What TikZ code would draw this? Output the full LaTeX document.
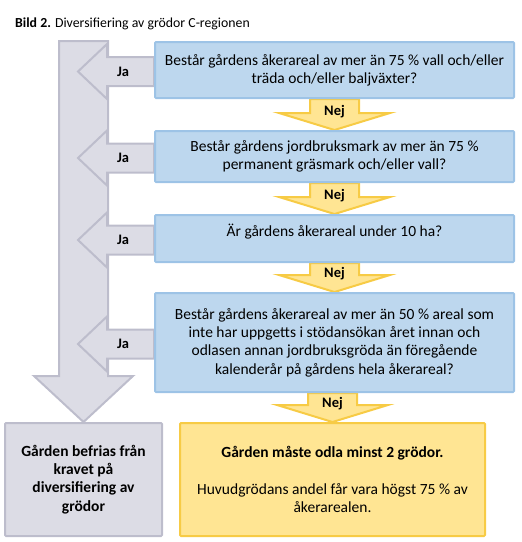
\documentclass[tikz,border=0pt]{standalone}
\usepackage{fontspec}
\setmainfont{Carlito}
\usetikzlibrary{positioning,calc,backgrounds}

\definecolor{boxblue}{HTML}{BDD7EE}
\definecolor{lineblue}{HTML}{9DC3E6}
\definecolor{boxgrey}{HTML}{DCDCE5}
\definecolor{linegrey}{HTML}{BDBDCC}
\definecolor{boxyellow}{HTML}{FFE593}
\definecolor{lineyellow}{HTML}{F7CB45}

\tikzset{
  txt/.style={font=\fontsize{15.5}{18.3}\selectfont, inner sep=0pt},
  question/.style={txt, draw=lineblue, fill=boxblue, line width=2pt, rounded corners=1pt,
    minimum width=359pt, align=center},
  greybox/.style={txt, draw=linegrey, fill=boxgrey, line width=2pt, rounded corners=1pt,
    minimum width=157pt, minimum height=113pt, align=center, font=\fontsize{15.5}{18.3}\selectfont\bfseries},
  yellowbox/.style={txt, draw=lineyellow, fill=boxyellow, line width=2pt, rounded corners=1pt,
    minimum width=305pt, minimum height=113pt, align=center},
  jaarrow/.style={draw=linegrey, fill=boxgrey, line width=2pt, line join=miter},
  nejarrow/.style={draw=lineyellow, fill=boxyellow, line width=2pt, line join=miter},
  answer/.style={txt, font=\fontsize{14.5}{17}\selectfont\bfseries}
}

\begin{document}
\begin{tikzpicture}[x=1pt, y=-1pt]
  \useasboundingbox (0,0) rectangle (522,542);

  % Title
  \node[txt, anchor=base west, font=\fontsize{13.8}{16}\selectfont] (title) at (15,27)
    {\textbf{Bild 2.} Diversifiering av grödor C-regionen};

  % Questions
  \node[question, minimum height=56pt] (q1) at (334.5,70)
    {Består gårdens åkerareal av mer än 75~\% vall och/eller\\träda och/eller baljväxter?};
  \node[question, minimum height=51pt] (q2) at (334.5,156.5)
    {Består gårdens jordbruksmark av mer än 75~\%\\permanent gräsmark och/eller vall?};
  \node[question, minimum height=47pt, text depth=16pt] (q3) at (334.5,238.5)
    {Är gårdens åkerareal under 10 ha?};
  \node[question, minimum height=99pt] (q4) at (334.5,342.5)
    {Består gårdens åkerareal av mer än 50~\% areal som\\inte har uppgetts i stödansökan året innan och\\odlasen annan jordbruksgröda än föregående\\kalenderår på gårdens hela åkerareal?};

  % Outcomes
  \node[greybox] (free) at (83.5,479.5)
    {Gården befrias från\\kravet på\\diversifiering av\\grödor};
  \node[yellowbox] (must) at (332.5,479.5)
    {\textbf{Gården måste odla minst 2 grödor.}\\[18.3pt]Huvudgrödans andel får vara högst 75~\% av\\åkerarealen.};

  \begin{scope}[on background layer]
    % Ja shaft
    \draw[jaarrow] let \p1=(free.north), \p2=(q1.north) in
      (\x1-24.5pt,\y2) -- (\x1+24.5pt,\y2) -- (\x1+24.5pt,\y1+46pt) -- (\x1+49.5pt,\y1+46pt)
      -- (\x1,\y1) -- (\x1-49.5pt,\y1+46pt) -- (\x1-24.5pt,\y1+46pt) -- cycle;
    \coordinate (shaft) at (107,42);

    % Ja arrows
    \foreach \q in {q1,q2,q3,q4} {
      \draw[jaarrow] let \p1=($(\q.west)+(0,1.5)$), \p2=(shaft) in
        (\x1,\y1+14.5pt) -- (\x2,\y1+14.5pt) -- (\x2,\y1+27.5pt) -- (\x2-29pt,\y1)
        -- (\x2,\y1-27.5pt) -- (\x2,\y1-14.5pt) -- (\x1,\y1-14.5pt) -- cycle;
      \path let \p1=($(\q.west)+(0,1.5)$), \p2=(shaft) in
        node[answer] (ja-\q) at (\x2+16pt,\y1) {Ja};
    }

    % Nej arrows
    \foreach \a/\b in {q1/q2,q2/q3,q3/q4,q4/must} {
      \draw[nejarrow] let \p1=(\a.south), \p2=(\b.north) in
        (\x2-24.5pt,\y1) -- (\x2-24.5pt,\y2+17pt) -- (\x2-55.5pt,\y2+17pt) -- (\x2,\y2)
        -- (\x2+55.5pt,\y2+17pt) -- (\x2+24.5pt,\y2+17pt) -- (\x2+24.5pt,\y1) -- cycle;
      \path let \p1=(\a.south), \p2=(\b.north) in
        node[answer] (nej-\a) at (\x2,\y2+18pt) {Nej};
    }
  \end{scope}
\end{tikzpicture}
\end{document}
